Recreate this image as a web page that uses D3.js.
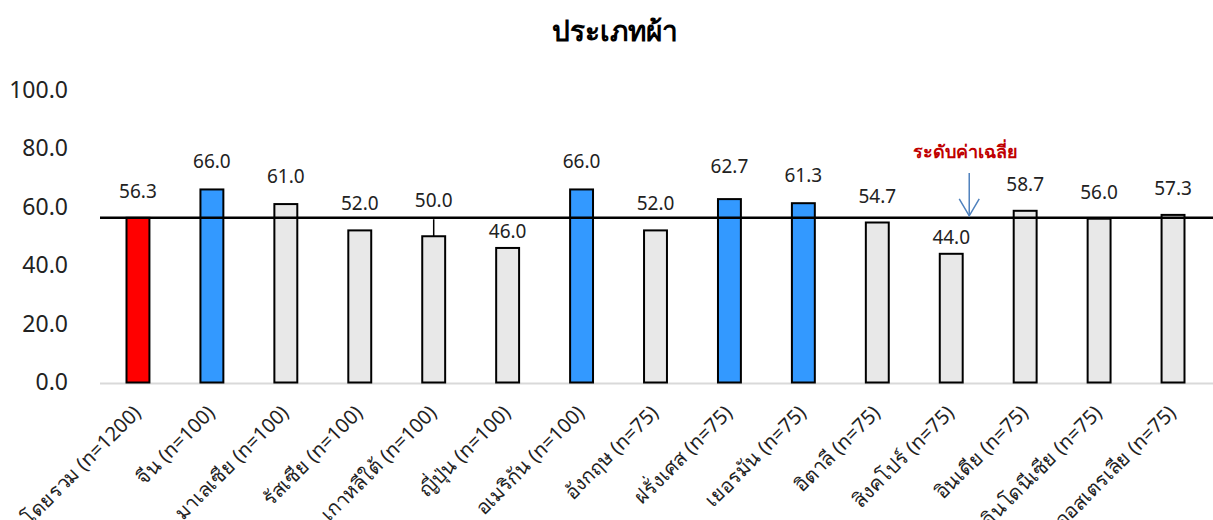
<!DOCTYPE html>
<html>
<head>
<meta charset="utf-8">
<script src="https://cdn.jsdelivr.net/npm/d3@7"></script>
<style>
  html, body { margin: 0; padding: 0; background: #fff; }
  svg { display: block; }
  text { font-family: "Noto Sans", "DejaVu Sans", sans-serif; }
</style>
</head>
<body>
<svg id="chart" width="1213" height="520"></svg>
<script>
// Category labels (country and sample size)
const categories = [
  "โดยรวม (n=1200)", "จีน (n=100)", "มาเลเซีย (n=100)", "รัสเซีย (n=100)",
  "เกาหลีใต้ (n=100)", "ญี่ปุ่น (n=100)", "อเมริกัน (n=100)", "อังกฤษ (n=75)",
  "ฝรั่งเศส (n=75)", "เยอรมัน (n=75)", "อิตาลี (n=75)", "สิงคโปร์ (n=75)",
  "อินเดีย (n=75)", "อินโดนีเซีย (n=75)", "ออสเตรเลีย (n=75)"
];
// Scores for fabric type
const values = [56.3, 66.0, 61.0, 52.0, 50.0, 46.0, 66.0, 52.0, 62.7, 61.3, 54.7, 44.0, 58.7, 56.0, 57.3];
// Bar group: total, highlighted markets, others
const groups = ["total", "high", "other", "other", "other", "other", "high", "other",
                "high", "high", "other", "other", "other", "other", "other"];
const averageValue = 56.3;
const yTicks = [0, 20, 40, 60, 80, 100];

// Layout: distance from bar top to value label centre
const labelGap = [27, 28, 28, 27, 36, 17, 28, 27, 33, 28, 27, 17, 27, 27, 27];

const fills = { total: "#ff0000", high: "#3399ff", other: "#e8e8e8" };

const svg = d3.select("#chart");
const x = d3.scaleBand().domain(categories).range([101, 1210]).paddingInner(0.69).paddingOuter(0.345);
const y = d3.scaleLinear().domain([0, 100]).range([382.5, 90]);

// Title
svg.append("text")
  .attr("x", 615).attr("y", 41)
  .attr("text-anchor", "middle")
  .attr("font-size", 28).attr("font-weight", "bold")
  .attr("fill", "#000")
  .text("ประเภทผ้า");

// Y axis labels (no line, no ticks)
const yAxis = d3.axisLeft(y).tickValues(yTicks).tickFormat(d3.format(".1f")).tickSize(0).tickPadding(0);
const gy = svg.append("g").attr("transform", "translate(68,0)").call(yAxis);
gy.select(".domain").remove();
gy.selectAll("text").attr("font-size", 23).attr("fill", "#222")
  .style("font-family", "'Noto Sans', 'DejaVu Sans', sans-serif");

// Baseline
svg.append("line")
  .attr("x1", 100).attr("x2", 1213)
  .attr("y1", y(0) + 1).attr("y2", y(0) + 1)
  .attr("stroke", "#d9d9d9").attr("stroke-width", 2);

// Bars
svg.append("g").selectAll("rect")
  .data(values)
  .join("rect")
  .attr("x", (d, i) => x(categories[i]))
  .attr("y", d => y(d))
  .attr("width", x.bandwidth())
  .attr("height", d => y(0) - y(d))
  .attr("fill", (d, i) => fills[groups[i]])
  .attr("stroke", "#000").attr("stroke-width", 2);

// Average line
svg.append("line")
  .attr("x1", 100).attr("x2", 1213)
  .attr("y1", y(averageValue)).attr("y2", y(averageValue))
  .attr("stroke", "#000").attr("stroke-width", 2.5);

// Value labels
svg.append("g").selectAll("text")
  .data(values)
  .join("text")
  .attr("x", (d, i) => x(categories[i]) + x.bandwidth() / 2)
  .attr("y", (d, i) => y(d) - labelGap[i] + 7)
  .attr("text-anchor", "middle")
  .attr("font-size", 19)
  .attr("fill", "#222")
  .text(d => d3.format(".1f")(d));

// Leader line for the label that sits above the average line
{
  const i = 4;
  const cx = x(categories[i]) + x.bandwidth() / 2;
  svg.append("line")
    .attr("x1", cx).attr("x2", cx)
    .attr("y1", y(values[i])).attr("y2", y(values[i]) - 17)
    .attr("stroke", "#000").attr("stroke-width", 1.5);
}

// Category labels, rotated
svg.append("g").selectAll("text")
  .data(categories)
  .join("text")
  .attr("transform", d => `translate(${x(d) + x.bandwidth() / 2 + 4},${414}) rotate(-45)`)
  .attr("text-anchor", "end")
  .attr("font-size", 20)
  .attr("fill", "#222")
  .text(d => d);

// Average annotation
const annX = x(categories[11]) + x.bandwidth() / 2;
svg.append("text")
  .attr("x", annX + 14).attr("y", 158)
  .attr("text-anchor", "middle")
  .attr("font-size", 18).attr("font-weight", "bold")
  .attr("fill", "#c00000")
  .text("ระดับค่าเฉลี่ย");

const arrowX = annX + 18;
const arrowTop = 173, arrowBottom = y(averageValue) - 2;
svg.append("line")
  .attr("x1", arrowX).attr("x2", arrowX)
  .attr("y1", arrowTop).attr("y2", arrowBottom)
  .attr("stroke", "#4f81bd").attr("stroke-width", 1.5);
svg.append("path")
  .attr("d", `M${arrowX - 10},${arrowBottom - 17} L${arrowX},${arrowBottom} L${arrowX + 10},${arrowBottom - 17}`)
  .attr("fill", "none")
  .attr("stroke", "#4f81bd").attr("stroke-width", 1.5);
</script>
</body>
</html>
